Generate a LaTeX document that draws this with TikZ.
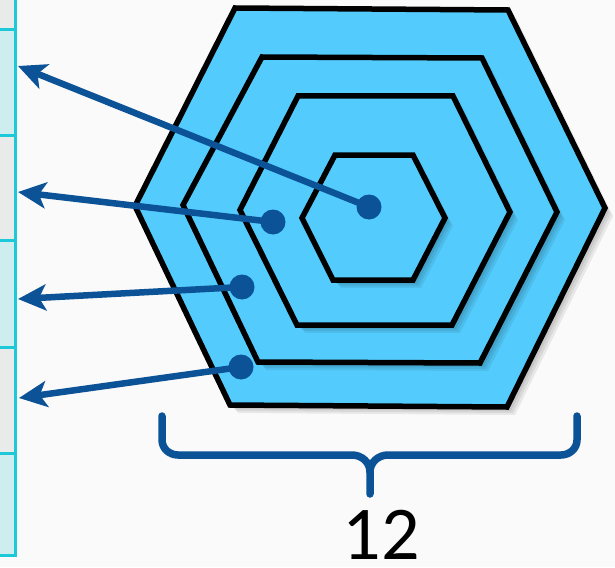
\documentclass[tikz,border=0pt]{standalone}
\usepackage{fontspec}
\setmainfont{Carlito}
\usetikzlibrary{arrows.meta}
\definecolor{hexfill}{HTML}{53CCFD}
\definecolor{darkblue}{HTML}{0B5296}
\definecolor{framecyan}{HTML}{1CC9D9}
\definecolor{cellcyan}{HTML}{CDEDEE}
\definecolor{cellgray}{HTML}{E9EAEA}
\definecolor{bgcol}{HTML}{FAFAFA}
\tikzset{
  hexshape/.style={draw=black, line width=5.5pt, fill=hexfill, line join=miter},
  hexshadow/.style={fill=black, opacity=0.07},
  pointer/.style={draw=darkblue, line width=6.5pt, -{Stealth[length=28pt,width=26pt,inset=7pt]}},
  dotnode/.style={circle, fill=darkblue, inner sep=0pt, minimum size=25pt},
  bracestyle/.style={draw=darkblue, line width=7.5pt, line cap=round, line join=round},
  cellc/.style={fill=cellcyan},
  cellg/.style={fill=cellgray},
  frame/.style={draw=framecyan, line width=3pt}
}
\begin{document}
\begin{tikzpicture}[x=1pt,y=-1pt]
\useasboundingbox (0,0) rectangle (615,567);
\fill[bgcol] (0,0) rectangle (615,567);
% left strip cells
\fill[cellg] (0,0) rectangle (15,30);
\fill[cellc] (0,30) rectangle (15,135);
\fill[cellg] (0,135) rectangle (15,240);
\fill[cellc] (0,240) rectangle (15,347);
\fill[cellg] (0,347) rectangle (15,453);
\fill[cellc] (0,453) rectangle (15,555);
\draw[frame] (15,0) -- (15,556);
\foreach \yy in {30,135,240,347,453,555} \draw[frame] (0,\yy) -- (16.5,\yy);
% hexagons with soft shadows
\def\hexA{(235,8) -- (508,10) -- (605,208) -- (507,407) -- (230,405) -- (135,206) -- cycle}
\def\hexB{(262,57) -- (482,58) -- (557,212) -- (480,363) -- (258,362) -- (183,205) -- cycle}
\def\hexC{(298,96) -- (453,96) -- (510,212) -- (452,325) -- (297,325) -- (240,210) -- cycle}
\def\hexD{(335,155) -- (413,155) -- (445,218) -- (413,280) -- (333,280) -- (302,218) -- cycle}
\foreach \s in {2,4,6,8} {\fill[hexshadow, shift={(\s,\s)}] \hexA;}
\draw[hexshape] \hexA;
\foreach \s in {2,4,6,8} {\fill[hexshadow, shift={(\s,\s)}] \hexB;}
\draw[hexshape] \hexB;
\foreach \s in {2,4,6,8} {\fill[hexshadow, shift={(\s,\s)}] \hexC;}
\draw[hexshape] \hexC;
\foreach \s in {2,4,6,8} {\fill[hexshadow, shift={(\s,\s)}] \hexD;}
\draw[hexshape] \hexD;
% dots and arrow targets
\node[dotnode] (d1) at (369,207) {};
\node[dotnode] (d2) at (273,222) {};
\node[dotnode] (d3) at (242,287) {};
\node[dotnode] (d4) at (241,367) {};
\coordinate (t1) at (18,66);
\coordinate (t2) at (18,192);
\coordinate (t3) at (18,299);
\coordinate (t4) at (19,398);
\draw[pointer] (d1.center) -- (t1);
\draw[pointer] (d2.center) -- (t2);
\draw[pointer] (d3.center) -- (t3);
\draw[pointer] (d4.center) -- (t4);
% brace
\draw[bracestyle] (162,416) -- (162,440) to[out=-90,in=180] (178,455) -- (352,455) to[out=0,in=90] (370,472) -- (370,494);
\draw[bracestyle] (577,416) -- (577,440) to[out=-90,in=0] (561,455) -- (388,455) to[out=180,in=90] (370,472);
\node[anchor=base, inner sep=0pt, font=\fontsize{76}{76}\selectfont] (lbl) at (381,559) {12};
\end{tikzpicture}
\end{document}
